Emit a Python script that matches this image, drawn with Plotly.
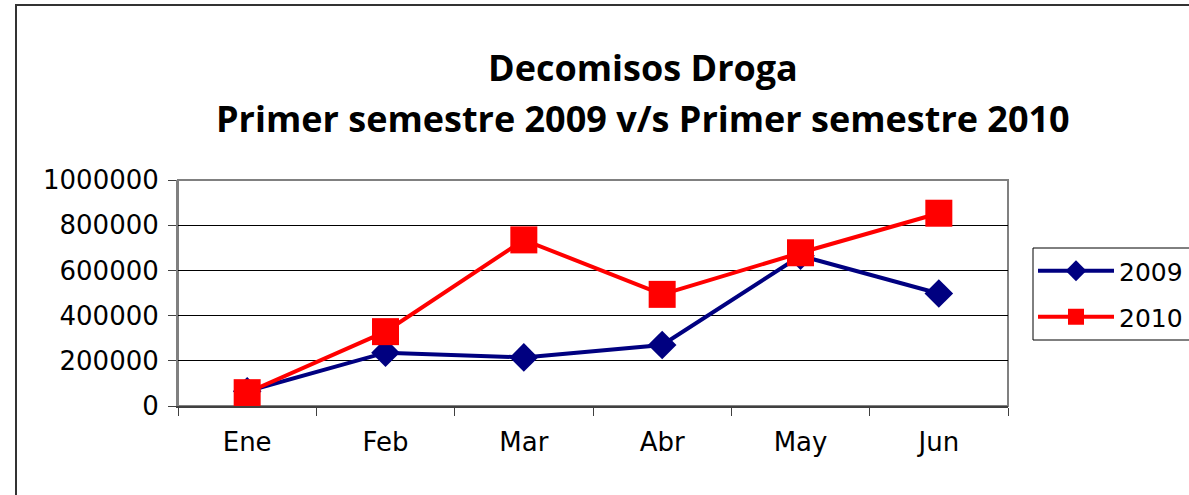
import plotly.graph_objects as go

months = ["Ene", "Feb", "Mar", "Abr", "May", "Jun"]
y2009 = [65000, 236000, 215000, 270000, 665000, 498000]
y2010 = [59000, 329000, 735000, 494000, 678000, 853000]
yticks = [0, 200000, 400000, 600000, 800000, 1000000]
title1 = "Decomisos Droga"
title2 = "Primer semestre 2009 v/s Primer semestre 2010"

W, H = 1189, 495
L, R, T, B = 178, 1008, 180, 406
pw, ph = R - L, B - T

def px(x):
    return (x - L) / pw

def py(y):
    return (B - y) / ph

fig = go.Figure()
fig.add_trace(go.Scatter(
    x=months, y=y2009, name="2009", mode="lines+markers",
    line=dict(color="#000080", width=4),
    marker=dict(symbol="diamond", size=22, color="#000080"),
    legend="legend",
))
fig.add_trace(go.Scatter(
    x=months, y=y2010, name="2010", mode="lines+markers",
    line=dict(color="#ff0000", width=4),
    marker=dict(symbol="square", size=27, color="#ff0000"),
    legend="legend2",
))

font_axis = dict(family="DejaVu Sans", size=26, color="black")
leg_font = dict(family="DejaVu Sans", size=25, color="black")

fig.update_layout(
    width=W, height=H,
    margin=dict(l=L, r=W - R, t=T, b=H - B, pad=0, autoexpand=False),
    paper_bgcolor="white", plot_bgcolor="white",
    showlegend=True,
    legend=dict(
        x=px(1033), y=py(271), xanchor="left", yanchor="middle",
        borderwidth=0, bgcolor="rgba(0,0,0,0)", font=leg_font, itemwidth=76,
    ),
    legend2=dict(
        x=px(1033), y=py(317), xanchor="left", yanchor="middle",
        borderwidth=0, bgcolor="rgba(0,0,0,0)", font=leg_font, itemwidth=76,
    ),
    xaxis=dict(
        type="category", range=[-0.5, 5.5],
        showgrid=False, showline=True, linecolor="#404040", linewidth=2,
        ticks="outside", tickson="boundaries", ticklen=8, tickcolor="#404040",
        tickfont=font_axis, ticklabelstandoff=12, zeroline=False, automargin=False,
    ),
    yaxis=dict(
        range=[0, 1000000], tickvals=yticks, ticktext=[str(v) for v in yticks],
        showgrid=True, gridcolor="black", gridwidth=1,
        showline=True, linecolor="#808080", linewidth=2,
        ticks="outside", ticklen=8, tickcolor="#404040",
        tickfont=font_axis, ticklabelstandoff=4, zeroline=False, automargin=False,
    ),
    annotations=[
        dict(text="<b>" + title1 + "</b>", xref="paper", yref="paper",
             x=px(643), y=py(68), xanchor="center", yanchor="middle",
             showarrow=False, font=dict(family="Open Sans", size=36, color="black")),
        dict(text="<b>" + title2 + "</b>", xref="paper", yref="paper",
             x=px(643), y=py(119), xanchor="center", yanchor="middle",
             showarrow=False, font=dict(family="Open Sans", size=36, color="black")),
    ],
    shapes=[
        # plot frame (gray top/right)
        dict(type="rect", xref="paper", yref="paper", x0=0, x1=1, y0=0, y1=1,
             line=dict(color="#808080", width=2), layer="below"),
        # outer chart border
        dict(type="rect", xref="paper", yref="paper",
             x0=px(16), x1=px(W + 20), y0=py(H + 20), y1=py(5),
             line=dict(color="#333333", width=2), layer="below"),
        # legend box
        dict(type="rect", xref="paper", yref="paper",
             x0=px(1033), x1=px(1200), y0=py(340), y1=py(248),
             line=dict(color="black", width=1), fillcolor="white", layer="below"),
    ],
)

fig.write_html("out.html", config={"displayModeBar": False},
               post_script="document.body.style.margin='0';")
